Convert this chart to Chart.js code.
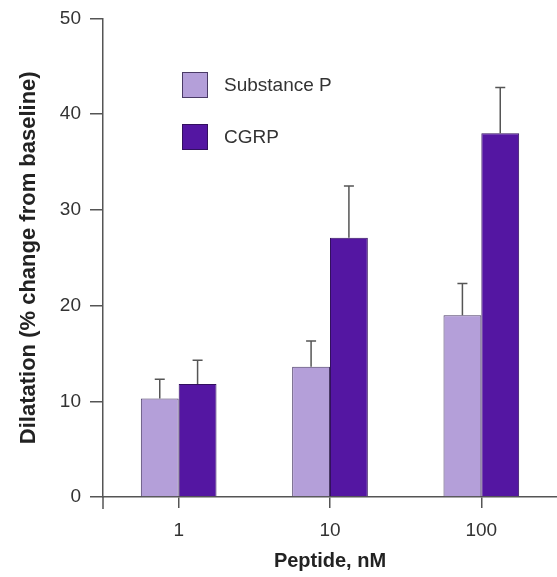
<!DOCTYPE html>
<html>
<head>
<meta charset="utf-8">
<script src="https://cdn.jsdelivr.net/npm/chart.js@4"></script>
<style>
  html, body { margin: 0; padding: 0; background: #fff; overflow: hidden; }
  #wrap { width: 557px; height: 577px; }
</style>
</head>
<body>
<div id="wrap"><canvas id="dilatation"></canvas></div>
<script>
// data
const doses = ["1", "10", "100"];
const substanceP = [10.3, 13.6, 19.0];
const substancePErr = [2.0, 2.7, 3.3];
const cgrp = [11.8, 27.1, 38.0];
const cgrpErr = [2.5, 5.4, 4.8];
const yTicks = [0, 10, 20, 30, 40, 50];

const axisColor = "#555555";

// upward-only error bars with a small cap
const errorBars = {
  id: "errorBars",
  afterDatasetsDraw(chart) {
    const ctx = chart.ctx;
    const y = chart.scales.y;
    ctx.save();
    ctx.strokeStyle = axisColor;
    ctx.lineWidth = 1.5;
    chart.data.datasets.forEach((ds, i) => {
      const meta = chart.getDatasetMeta(i);
      meta.data.forEach((bar, j) => {
        const top = y.getPixelForValue(ds.data[j] + ds.errors[j]);
        ctx.beginPath();
        ctx.moveTo(bar.x, bar.y);
        ctx.lineTo(bar.x, top);
        ctx.moveTo(bar.x - 5, top);
        ctx.lineTo(bar.x + 5, top);
        ctx.stroke();
      });
    });
    ctx.restore();
  },
};

// legend inside the plot + y axis stub below zero
const extras = {
  id: "extras",
  afterDraw(chart) {
    const ctx = chart.ctx;
    const area = chart.chartArea;
    ctx.save();
    ctx.strokeStyle = axisColor;
    ctx.lineWidth = 1.5;
    ctx.beginPath();
    ctx.moveTo(area.left, area.bottom);
    ctx.lineTo(area.left, area.bottom + 12);
    ctx.stroke();

    ctx.font = "19px 'Liberation Sans', Arial, sans-serif";
    ctx.textBaseline = "middle";
    chart.data.datasets.forEach((ds, i) => {
      const bx = 182, by = 72 + i * 52;
      ctx.fillStyle = ds.backgroundColor;
      ctx.fillRect(bx, by, 26, 26);
      ctx.strokeStyle = ds.borderColor;
      ctx.lineWidth = 1;
      ctx.strokeRect(bx + 0.5, by + 0.5, 25, 25);
      ctx.fillStyle = "#333333";
      ctx.fillText(ds.label, 224, by + 14);
    });
    ctx.restore();
  },
};

const dilatation = document.getElementById("dilatation").getContext("2d");

let dilatationChart = new Chart(dilatation, {
  type: "bar",
  data: {
    labels: doses,
    datasets: [
      {
        label: "Substance P",
        data: substanceP,
        errors: substancePErr,
        backgroundColor: "#b49fd9",
        borderColor: "#4a3a66",
        borderWidth: 1,
      },
      {
        label: "CGRP",
        data: cgrp,
        errors: cgrpErr,
        backgroundColor: "#5416a2",
        borderColor: "#33105f",
        borderWidth: 1,
      },
    ],
  },
  options: {
    responsive: true,
    maintainAspectRatio: false,
    animation: false,
    categoryPercentage: 0.5,
    barPercentage: 1.0,
    layout: {
      padding: { top: 4, right: 0, left: 0, bottom: 0 },
    },
    plugins: {
      legend: { display: false },
      tooltip: { enabled: false },
    },
    scales: {
      x: {
        afterFit: (scale) => { scale.height = 80; },
        grid: {
          offset: false,
          drawOnChartArea: false,
          drawTicks: true,
          tickLength: 11,
          color: axisColor,
          lineWidth: 1.5,
        },
        border: { display: true, color: axisColor, width: 1.5 },
        ticks: {
          padding: 11,
          color: "#333333",
          font: { family: "'Liberation Sans', Arial, sans-serif", size: 19 },
        },
        title: {
          display: true,
          text: "Peptide, nM",
          color: "#222222",
          padding: { top: 13 },
          font: { family: "'Liberation Sans', Arial, sans-serif", size: 20, weight: "bold" },
        },
      },
      y: {
        min: 0,
        max: 50,
        afterFit: (scale) => { scale.width = 103; },
        afterBuildTicks: (scale) => {
          scale.ticks = yTicks.map((v) => ({ value: v }));
        },
        grid: {
          drawOnChartArea: false,
          drawTicks: true,
          tickLength: 13,
          color: axisColor,
          lineWidth: 1.5,
        },
        border: { display: true, color: axisColor, width: 1.5 },
        ticks: {
          padding: 9,
          color: "#333333",
          font: { family: "'Liberation Sans', Arial, sans-serif", size: 19, lineHeight: 1 },
        },
        title: {
          display: true,
          text: "Dilatation (% change from baseline)",
          color: "#222222",
          padding: { top: 16, bottom: 0 },
          font: { family: "'Liberation Sans', Arial, sans-serif", size: 22, weight: "bold" },
        },
      },
    },
  },
  plugins: [errorBars, extras],
});
</script>
</body>
</html>
